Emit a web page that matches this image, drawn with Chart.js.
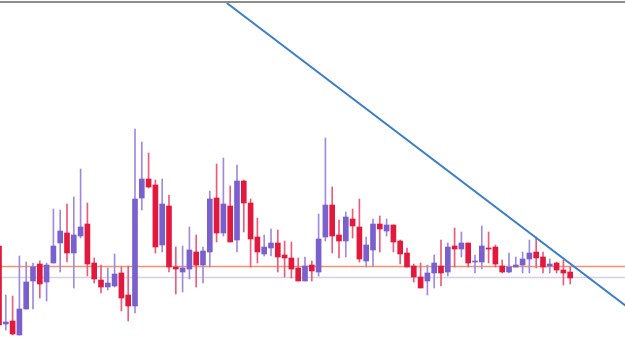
<!DOCTYPE html>
<html>
<head>
<meta charset="utf-8">
<script src="https://cdn.jsdelivr.net/npm/chart.js@4/dist/chart.umd.min.js"></script>
<style>
  html, body { margin: 0; padding: 0; background: #fff; }
  #wrap { position: relative; width: 625px; height: 345px; margin-top: 1px; border-top: 2px solid #8c8c8c; }
</style>
</head>
<body>
<div id="wrap"><canvas id="candles"></canvas></div>
<script>
// candle values (price units), one entry per bar
const opens  = [104, 26, 29, 15, 41, 69, 86, 68, 87, 107, 117, 97, 114, 126, 87, 70, 63, 64, 77, 55,
  44, 152, 171, 165, 105, 144, 83, 78, 81, 98, 85, 98, 152, 117, 144, 110, 169, 147, 113, 96,
  102, 107, 95, 92, 82, 69, 85, 78, 113, 145, 115, 109, 131, 123, 89, 100, 126, 119, 125, 109,
  97, 84, 73, 69, 77, 84, 78, 104, 101, 107, 88, 88, 102, 103, 84, 78, 83, 85, 91, 98,
  93, 84, 87, 80, 78];
const highs  = [106, 55, 54, 94, 88, 87, 89, 87, 141, 140, 146, 153, 181, 147, 92, 85, 82, 96, 83, 84,
  221, 208, 197, 170, 171, 155, 103, 104, 123, 115, 103, 159, 186, 192, 164, 185, 170, 151, 132, 115,
  121, 120, 109, 108, 92, 93, 89, 136, 212, 163, 130, 138, 141, 151, 113, 131, 134, 131, 125, 110,
  102, 86, 87, 85, 95, 110, 107, 122, 118, 107, 95, 124, 118, 105, 90, 97, 93, 98, 110, 113,
  98, 91, 88, 90, 83];
const lows   = [22, 20, 15, 15, 41, 41, 52, 49, 87, 78, 88, 62, 112, 74, 67, 57, 60, 63, 39, 29,
  37, 140, 162, 97, 98, 78, 56, 58, 71, 63, 67, 83, 108, 114, 108, 98, 118, 83, 87, 94,
  94, 78, 73, 72, 69, 69, 69, 74, 109, 97, 92, 93, 112, 88, 83, 84, 98, 114, 98, 86,
  83, 68, 62, 55, 62, 64, 74, 83, 93, 83, 77, 81, 87, 83, 77, 77, 83, 77, 77, 82,
  77, 77, 77, 65, 66];
const closes = [25, 28, 16, 41, 68, 83, 66, 85, 104, 119, 97, 115, 123, 86, 71, 63, 67, 76, 52, 44,
  151, 171, 163, 103, 146, 83, 81, 82, 100, 85, 99, 151, 117, 146, 108, 169, 147, 111, 98, 103,
  107, 93, 92, 81, 69, 84, 79, 111, 145, 114, 109, 133, 124, 91, 105, 126, 121, 125, 108, 96,
  83, 73, 62, 77, 87, 77, 103, 101, 107, 87, 89, 104, 101, 86, 78, 83, 85, 91, 97, 92,
  83, 86, 80, 77, 72];

// horizontal levels and the falling trend line
const levelUpper = 83.5;
const levelLower = 72.5;
const trendX = [33.5, 93];
const trendY = [347, 40];

const upBody = '#7a60cc', downBody = '#e2193c';
const upWick = '#9e8ae0', downWick = '#ee5a78';

const idx = opens.map((_, i) => i);
const isUp = idx.map(i => closes[i] >= opens[i]);

const bodies = idx.map(i => ({ x: i, y: [opens[i], closes[i]] }));
const wicks = idx.map(i => ({ x: i, y: [lows[i], highs[i]] }));

new Chart(document.getElementById('candles'), {
  type: 'bar',
  data: {
    datasets: [
      {
        type: 'line',
        data: trendX.map((x, i) => ({ x: x, y: trendY[i] })),
        borderColor: '#3b7ec9',
        borderWidth: 2,
        pointRadius: 0,
        order: 0
      },
      {
        data: bodies,
        backgroundColor: isUp.map(u => u ? upBody : downBody),
        borderWidth: 0,
        barThickness: 5,
        grouped: false,
        order: 1
      },
      {
        data: wicks,
        backgroundColor: isUp.map(u => u ? upWick : downWick),
        borderWidth: 0,
        barThickness: 1,
        grouped: false,
        order: 2
      },
      {
        type: 'line',
        data: [{ x: -2, y: levelUpper }, { x: 95, y: levelUpper }],
        borderColor: '#f29473',
        borderWidth: 1.5,
        pointRadius: 0,
        order: 3
      },
      {
        type: 'line',
        data: [{ x: -2, y: levelLower }, { x: 95, y: levelLower }],
        borderColor: '#d6d0e8',
        borderWidth: 1.5,
        pointRadius: 0,
        order: 3
      }
    ]
  },
  options: {
    responsive: true,
    maintainAspectRatio: false,
    animation: false,
    layout: { padding: 0 },
    plugins: { legend: { display: false }, tooltip: { enabled: false } },
    scales: {
      x: { type: 'linear', display: false, offset: false, min: 0.147, max: 92.06 },
      y: { display: false, min: 2, max: 347 }
    }
  }
});
</script>
</body>
</html>
